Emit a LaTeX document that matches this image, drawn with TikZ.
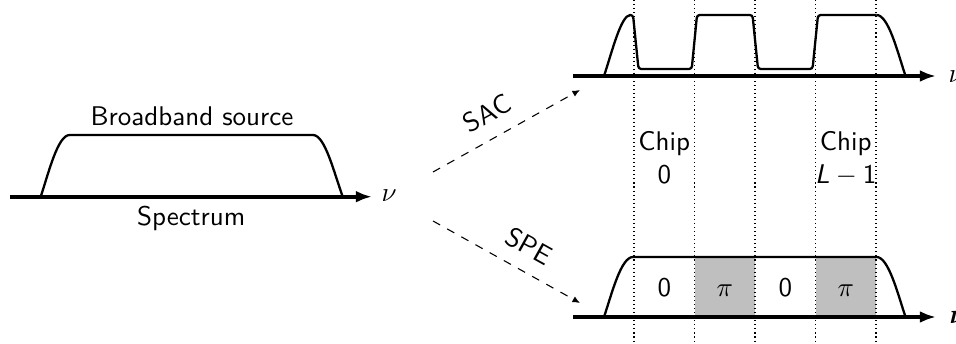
\documentclass[tikz,border=0pt]{standalone}
\usepackage{amsmath}
\usetikzlibrary{arrows.meta}
\renewcommand{\familydefault}{\sfdefault}
\begin{document}
\begin{tikzpicture}[x=0.37pt,y=-0.37pt,
  axis/.style={line width=1.4pt,-{Latex[length=6pt,width=4.4pt]}},
  spec/.style={line width=0.85pt,line join=round},
  chipline/.style={line width=0.4pt,dash pattern=on 0.4pt off 1.1pt},
  flow/.style={dashed,line width=0.4pt,-{Latex[length=2.8pt,width=2.4pt]}},
  lbl/.style={inner sep=0pt},
  phase/.style={fill=gray!50,draw=none}]
\useasboundingbox (0,0) rectangle (956,344);

% ---------- left: broadband source ----------
\coordinate (la0) at (10,196.7);
\coordinate (la1) at (372,196.7);
\draw[spec] (40.7,196.7) .. controls (48.7,172.7) and (57.7,135) .. (69.7,135)
  -- (313,135) .. controls (325,135) and (334,172.7) .. (342.7,196.7);
\draw[axis] (la0) -- (la1);
\node[lbl,anchor=base] (bsrc) at (192,126) {Broadband source};
\node[lbl,anchor=base] (spec) at (191.3,226) {Spectrum};
\node[lbl,anchor=west] (nuL) at (381,196) {$\nu$};

% ---------- bottom right: SPE ----------
\fill[phase] (694.5,257) rectangle (755,317);
\fill[phase] (815.5,257) rectangle (876,317);
\draw[spec] (604,317) .. controls (612,293) and (621,257) .. (633,257)
  -- (876.5,257) .. controls (888.5,257) and (897.5,293) .. (905.5,317);
\draw[axis] (573,317) -- (936,317);
\node[lbl,anchor=west] (nuB) at (949,317) {$\boldsymbol{\nu}$};
\node[lbl,anchor=base] (p1) at (664.25,296.7) {0};
\node[lbl,anchor=base] (p2) at (724.75,296.7) {$\pi$};
\node[lbl,anchor=base] (p3) at (785.25,296.7) {0};
\node[lbl,anchor=base] (p4) at (845.75,296.7) {$\pi$};

% ---------- top right: SAC ----------
\draw[spec,rounded corners=1pt] (604,76) .. controls (612,52) and (621,15) .. (633,15)
  -- (638.5,69) -- (691.7,69) -- (697,15) -- (752.5,15) -- (758,69)
  -- (812.5,69) -- (818,15) -- (876.5,15);
\draw[spec] (876.5,15) .. controls (888.5,15) and (897.5,52) .. (905.5,76);
\draw[axis] (573,76) -- (936,76);
\node[lbl,anchor=west] (nuT) at (948,77) {$\nu$};

% ---------- chip boundaries ----------
\foreach \i in {0,...,4}{
  \draw[chipline] ({634+60.5*\i},0) -- ({634+60.5*\i},344);
}
\node[lbl,anchor=base,align=center] (chip0) at (664.25,183.3) {Chip\\0};
\node[lbl,anchor=base,align=center] (chipL) at (845.75,183.3) {Chip\\\textit{L}${}-{}$1};

% ---------- flows ----------
\coordinate (sacA) at (433,172);
\coordinate (sacB) at (580,90);
\coordinate (speA) at (433,221);
\coordinate (speB) at (580,303);
\draw[flow] (sacA) -- node[pos=0.45,above=2pt,sloped] (sac) {SAC} (sacB);
\draw[flow] (speA) -- node[pos=0.57,above=2pt,sloped] (spe) {SPE} (speB);
\end{tikzpicture}
\end{document}
